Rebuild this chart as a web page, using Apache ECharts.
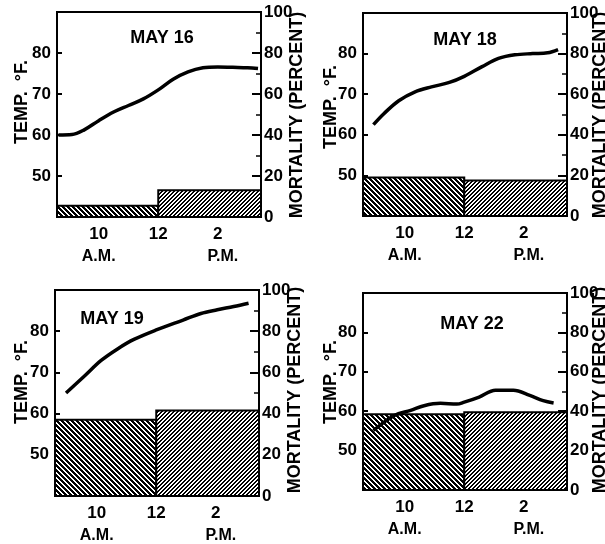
<!DOCTYPE html>
<html>
<head>
<meta charset="utf-8">
<script src="https://cdn.jsdelivr.net/npm/echarts@6/dist/echarts.min.js"></script>
<style>
html,body{margin:0;padding:0;background:#fff;}
#c{width:605px;height:544px;}
</style>
</head>
<body>
<div id="c"></div>
<script>
// ---- data ----
const panelTitles = ['MAY 16', 'MAY 18', 'MAY 19', 'MAY 22'];
const xTickValues = [10, 12, 14];
const xTickLabels = ['10', '12', '2'];
const xPeriodLabels = ['A.M.', '', 'P.M.'];
const tempTicks = [50, 60, 70, 80];
const amPeriod = [8.6, 12];
const pmPeriod = [12, 15.45];

const hours16 = [8.65, 9.1, 9.5, 10, 10.5, 11, 11.5, 12, 12.5, 13, 13.5, 14, 14.5, 15, 15.35];
const temp16  = [60, 60.1, 61.2, 63.5, 65.6, 67.2, 68.8, 71, 73.6, 75.4, 76.4, 76.6, 76.5, 76.4, 76.2];
const hours18 = [8.95, 9.3, 9.8, 10.35, 10.9, 11.5, 12, 12.6, 13.15, 13.7, 14.3, 14.8, 15.15];
const temp18  = [62.5, 65.2, 68.4, 70.6, 71.8, 72.9, 74.4, 76.8, 78.8, 79.7, 80, 80.2, 81];
const hours19 = [8.97, 9.6, 10.15, 10.7, 11.25, 12, 12.9, 13.5, 14.05, 14.6, 15.1];
const temp19  = [65, 69.2, 72.9, 75.7, 78, 80.3, 82.7, 84.3, 85.2, 86, 86.8];
const hours22 = [8.95, 9.65, 10.2, 10.65, 11.2, 11.75, 12, 12.5, 13.05, 13.65, 14.2, 14.65, 15];
const temp22  = [55.1, 58.9, 60.2, 61.4, 62, 61.8, 62.3, 63.6, 65.3, 65.3, 64, 62.7, 62.1];

const mortAM = [5.5, 19, 37, 38.5];
const mortPM = [13, 17.5, 41.5, 39.5];

const hoursList = [hours16, hours18, hours19, hours22];
const tempList = [temp16, temp18, temp19, temp22];

// ---- layout ----
const grids = [
  {left: 57, right: 344, top: 12, bottom: 327},
  {left: 363, right: 38, top: 13, bottom: 328},
  {left: 55, right: 346, top: 290, bottom: 48},
  {left: 363, right: 38, top: 293, bottom: 54}
];
const titlePos = [[162, 38], [465, 40], [112, 319], [472, 324]];
const tempNamePos = [[22, 102], [331, 107], [22, 382], [331, 382]];
const mortNamePos = [[297, 115], [600, 115], [295, 390], [600, 390]];

const FONT = 'Liberation Sans';

// crisp pixel diagonal stripes
function hatch(dir, size, w) {
  const c = document.createElement('canvas');
  c.width = size; c.height = size;
  const g = c.getContext('2d');
  g.fillStyle = '#fff';
  g.fillRect(0, 0, size, size);
  g.fillStyle = '#000';
  for (let y = 0; y < size; y++) {
    for (let x = 0; x < size; x++) {
      const d = dir === 'back' ? ((x - y) % size + size) % size : (x + y) % size;
      if (d < w) g.fillRect(x, y, 1, 1);
    }
  }
  return c;
}
const patAM = {image: hatch('back', 5, 3), repeat: 'repeat'};
const patPM = {image: hatch('fwd', 4, 2), repeat: 'repeat'};

const textBase = {fontFamily: FONT, fontWeight: 'bold', color: '#000'};

const option = {
  animation: false,
  backgroundColor: '#fff',
  title: panelTitles.map((t, i) => ({
    text: t, left: titlePos[i][0], top: titlePos[i][1], textAlign: 'center', textVerticalAlign: 'middle',
    padding: 0,
    textStyle: Object.assign({fontSize: 18}, textBase)
  })),
  grid: grids.map(g => Object.assign({show: true, borderColor: '#000', borderWidth: 2, backgroundColor: 'transparent'}, g)),
  xAxis: grids.map((g, i) => ({
    type: 'value', gridIndex: i, min: amPeriod[0], max: pmPeriod[1],
    axisLine: {show: true, lineStyle: {color: '#000', width: 2}},
    axisTick: {show: true, inside: true, length: 5, customValues: xTickValues, lineStyle: {color: '#000', width: 2}},
    splitLine: {show: false},
    axisLabel: {
      customValues: xTickValues, margin: 5,
      formatter: v => {
        const k = xTickValues.indexOf(v);
        if (k < 0) return '';
        let s = '{n|' + xTickLabels[k] + '}';
        if (xPeriodLabels[k]) s += '\n{' + (k === 0 ? 'a' : 'p') + '|' + xPeriodLabels[k] + '}';
        return s;
      },
      rich: {
        n: Object.assign({fontSize: 17, lineHeight: 24}, textBase),
        a: Object.assign({fontSize: 16, lineHeight: 22}, textBase),
        p: Object.assign({fontSize: 16, lineHeight: 22, padding: [0, 0, 0, 10]}, textBase)
      }
    }
  })),
  yAxis: [].concat(...grids.map((g, i) => [
    {
      type: 'value', gridIndex: i, position: 'left', min: 40, max: 90,
      axisLine: {show: true, lineStyle: {color: '#000', width: 2}},
      axisTick: {show: true, inside: true, length: 5, customValues: tempTicks, lineStyle: {color: '#000', width: 2}},
      axisLabel: Object.assign({customValues: tempTicks, fontSize: 17, margin: 6}, textBase),
      splitLine: {show: false}
    },
    {
      type: 'value', gridIndex: i, position: 'right', min: 0, max: 100, interval: 20,
      axisLine: {show: true, lineStyle: {color: '#000', width: 2}},
      axisTick: {show: true, inside: true, length: 9, lineStyle: {color: '#000', width: 2}},
      minorTick: {show: true, splitNumber: 2, length: 5, lineStyle: {color: '#000', width: 1.5}},
      axisLabel: Object.assign({fontSize: 17, margin: 3}, textBase),
      splitLine: {show: false}
    }
  ])),
  graphic: [].concat(
    tempNamePos.map(p => ({
      type: 'text', x: p[0], y: p[1], rotation: Math.PI / 2, z: 10,
      style: {text: 'TEMP.  \u00b0F.', font: 'bold 18px "' + FONT + '"', fill: '#000', align: 'center', verticalAlign: 'middle'}
    })),
    mortNamePos.map(p => ({
      type: 'text', x: p[0], y: p[1], rotation: Math.PI / 2, z: 10,
      style: {text: 'MORTALITY (PERCENT)', font: 'bold 18px "' + FONT + '"', fill: '#000', align: 'center', verticalAlign: 'middle'}
    }))
  ),
  series: [].concat(
    grids.map((g, i) => ({
      type: 'custom', xAxisIndex: i, yAxisIndex: 2 * i + 1, z: 2, clip: true,
      encode: {x: [0, 1], y: 2},
      data: [[amPeriod[0], amPeriod[1], mortAM[i], 0], [pmPeriod[0], pmPeriod[1], mortPM[i], 1]],
      renderItem: (params, api) => {
        const p0 = api.coord([api.value(0), api.value(2)]);
        const p1 = api.coord([api.value(1), 0]);
        return {
          type: 'rect',
          shape: {x: p0[0], y: p0[1], width: p1[0] - p0[0], height: p1[1] - p0[1]},
          style: {fill: api.value(3) === 0 ? patAM : patPM, stroke: '#000', lineWidth: 2}
        };
      }
    })),
    grids.map((g, i) => ({
      type: 'line', xAxisIndex: i, yAxisIndex: 2 * i, z: 5,
      data: hoursList[i].map((h, j) => [h, tempList[i][j]]),
      smooth: 0.35, showSymbol: false, symbol: 'none',
      lineStyle: {color: '#000', width: 3.5}
    }))
  )
};

const chart = echarts.init(document.getElementById('c'), null, {renderer: 'canvas'});
chart.setOption(option);
</script>
</body>
</html>
